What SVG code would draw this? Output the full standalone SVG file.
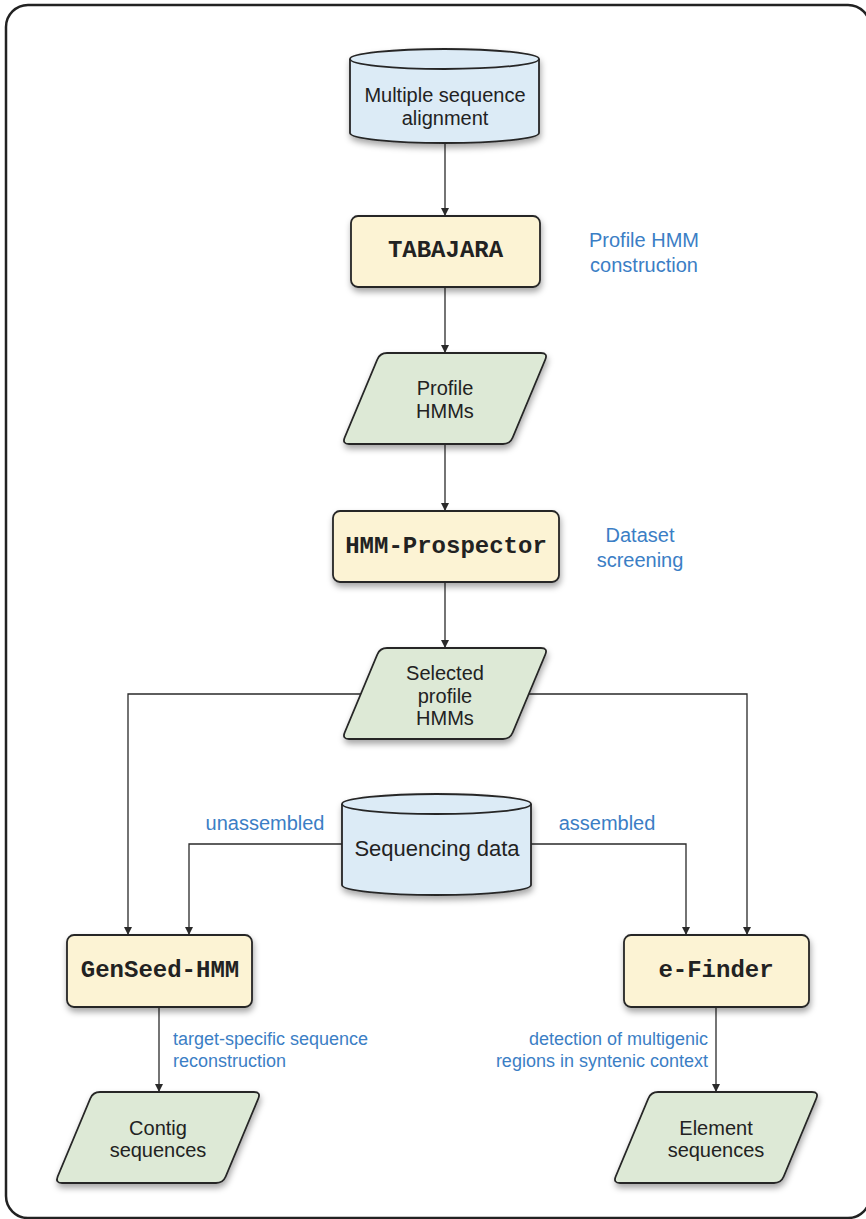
<svg xmlns="http://www.w3.org/2000/svg" width="866" height="1219" viewBox="0 0 866 1219">
<style>
.frame{fill:#fff;stroke:#222;stroke-width:2.5}
.shape{stroke:#262626;stroke-width:1.8;filter:url(#sh)}
.proc{fill:#fcf3d4}
.data{fill:#dde9d6}
.db{fill:#dcebf6}
.edge{fill:none;stroke:#2a2a2a;stroke-width:1.3;marker-end:url(#ah)}
.t{font-family:"Liberation Sans",Arial,sans-serif;font-size:20px;fill:#222;text-anchor:middle}
.m{font-family:"Liberation Mono","Courier New",monospace;font-size:24px;font-weight:bold;fill:#222;text-anchor:middle}
.b{font-family:"Liberation Sans",Arial,sans-serif;font-size:20px;fill:#3b7ec5;text-anchor:middle}
.s{font-family:"Liberation Sans",Arial,sans-serif;font-size:18px;fill:#3b7ec5}
</style>
<defs>
<filter id="sh" x="-20%" y="-20%" width="140%" height="150%">
<feDropShadow dx="1" dy="4" stdDeviation="3" flood-color="#000" flood-opacity="0.35"/>
</filter>
<marker id="ah" viewBox="0 0 10 10" refX="10" refY="5" markerWidth="8" markerHeight="8" markerUnits="userSpaceOnUse" orient="auto">
<path d="M0,0 L10,5 L0,10 z" fill="#2a2a2a"/>
</marker>
<path id="para" d="M45,0 L199,0 Q206,0 203.3,6.5 L170.7,84.5 Q168,91 161,91 L7,91 Q0,91 2.7,84.5 L35.3,6.5 Q38,0 45,0 Z"/>
</defs>
<rect class="frame" x="6" y="5" width="864" height="1213" rx="22"/>
<g id="connectors">
<path class="edge" d="M445,143 L445,216"/>
<path class="edge" d="M445,287 L445,353"/>
<path class="edge" d="M445,443 L445,511"/>
<path class="edge" d="M445,582 L445,648"/>
<path class="edge" d="M361,694 L128,694 L128,935"/>
<path class="edge" d="M529,694 L747,694 L747,935"/>
<path class="edge" d="M342,844 L189,844 L189,935"/>
<path class="edge" d="M531,844 L686,844 L686,935"/>
<path class="edge" d="M159,1007 L159,1092"/>
<path class="edge" d="M716,1007 L716,1092"/>
<text class="b" x="265" y="830">unassembled</text>
<text class="b" x="607" y="830">assembled</text>
<text class="s" x="173" y="1045">target-specific sequence</text>
<text class="s" x="173" y="1067">reconstruction</text>
<text class="s" x="708" y="1045" text-anchor="end">detection of multigenic</text>
<text class="s" x="708" y="1067" text-anchor="end">regions in syntenic context</text>
</g>
<g id="msa">
<path class="shape db" d="M350,59 A94.5,10 0 0 1 539,59 L539,133 A94.5,10 0 0 1 350,133 Z"/>
<path d="M350,59 A94.5,10 0 0 0 539,59" fill="none" stroke="#262626" stroke-width="1.8"/>
<text class="t" x="445" y="102">Multiple sequence</text>
<text class="t" x="445" y="125">alignment</text>
</g>
<g id="tabajara">
<rect class="shape proc" x="351" y="216" width="189" height="71" rx="7"/>
<text class="m" x="445.5" y="257">TABAJARA</text>
<text class="b" x="644" y="247">Profile HMM</text>
<text class="b" x="644" y="272">construction</text>
</g>
<g id="profile-hmms" transform="translate(342,353)">
<use href="#para" class="shape data"/>
<text class="t" x="103" y="42">Profile</text>
<text class="t" x="103" y="65">HMMs</text>
</g>
<g id="hmm-prospector">
<rect class="shape proc" x="333" y="511" width="226" height="71" rx="7"/>
<text class="m" x="446" y="553">HMM-Prospector</text>
<text class="b" x="640" y="542">Dataset</text>
<text class="b" x="640" y="567">screening</text>
</g>
<g id="selected" transform="translate(342,648)">
<use href="#para" class="shape data"/>
<text class="t" x="103" y="32">Selected</text>
<text class="t" x="103" y="55">profile</text>
<text class="t" x="103" y="77">HMMs</text>
</g>
<g id="seqdata">
<path class="shape db" d="M342,804 A94.5,10 0 0 1 531,804 L531,885 A94.5,10 0 0 1 342,885 Z"/>
<path d="M342,804 A94.5,10 0 0 0 531,804" fill="none" stroke="#262626" stroke-width="1.8"/>
<text class="t" x="437" y="856" style="font-size:22px">Sequencing data</text>
</g>
<g id="genseed">
<rect class="shape proc" x="67" y="935" width="185" height="72" rx="7"/>
<text class="m" x="160" y="977">GenSeed-HMM</text>
</g>
<g id="efinder">
<rect class="shape proc" x="624" y="935" width="185" height="72" rx="7"/>
<text class="m" x="716" y="977">e-Finder</text>
</g>
<g id="contig" transform="translate(55,1092)">
<use href="#para" class="shape data"/>
<text class="t" x="103" y="43">Contig</text>
<text class="t" x="103" y="65">sequences</text>
</g>
<g id="element" transform="translate(613,1092)">
<use href="#para" class="shape data"/>
<text class="t" x="103" y="43">Element</text>
<text class="t" x="103" y="65">sequences</text>
</g>
</svg>
